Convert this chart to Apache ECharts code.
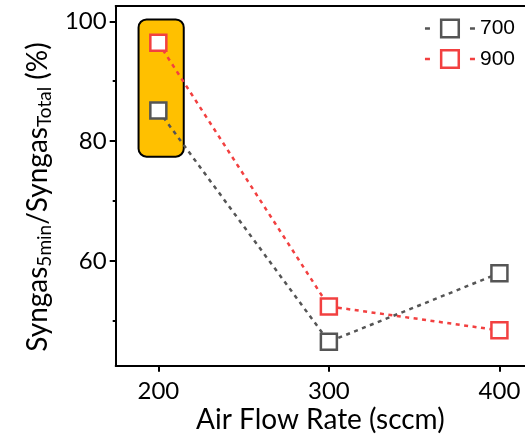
<!DOCTYPE html>
<html>
<head>
<meta charset="utf-8">
<style>html,body{margin:0;padding:0;background:#fff;overflow:hidden;}#c{width:525px;height:439px;}</style>
<script src="https://cdn.jsdelivr.net/npm/echarts@6/dist/echarts.min.js"></script>
</head>
<body>
<div id="c"></div>
<script>
// ---- data ----
const airFlow = [200, 300, 400];
const s700 = [85.1, 46.5, 57.95];
const s900 = [96.4, 52.4, 48.4];
const seriesNames = ['700', '900'];
const xTicks = [200, 300, 400];
const yMajorTicks = [60, 80, 100];
const yMinorTicks = [50, 70, 90];
const highlightBox = [188.4, 77.4, 214.9, 100.3]; // x0, y0, x1, y1 (data units)
const xTitle = 'Air Flow Rate (sccm)';
const yTitle = '{m|Syngas}{s|5min}{m|/Syngas}{s|Total}{m| (%)}';

const GRAY = '#555555';
const RED = '#F24040';
const FONT = 'Lato';

const chart = echarts.init(document.getElementById('c'), null, {renderer: 'canvas'});
const dotted = [4, 4.5];
const X_MIN = 175, X_MAX = 415, Y_MIN = 42.5, Y_MAX = 102.55;

const hiddenAxisBits = {axisTick: {show: false}, axisLabel: {show: false}, splitLine: {show: false}};

chart.setOption({
  animation: false,
  backgroundColor: '#fff',
  grid: {left: 115.7, right: 0, top: 6, bottom: 73.3, outerBoundsMode: 'none', containLabel: false},
  legend: {
    data: seriesNames,
    orient: 'vertical',
    right: 10, top: 18, padding: 0,
    itemWidth: 50, itemHeight: 22, itemGap: 9.5,
    textStyle: {fontFamily: 'Liberation Sans', fontSize: 21, color: '#000'},
    lineStyle: {type: [5, 17.5], width: 2.5},
    itemStyle: {borderWidth: 2.5}
  },
  graphic: [{
    type: 'text', x: 38, y: 197, rotation: Math.PI / 2, z: 10,
    style: {
      text: yTitle, align: 'center', verticalAlign: 'middle',
      rich: {
        m: {fontFamily: FONT, fontSize: 28, fill: '#000', lineHeight: 32},
        s: {fontFamily: FONT, fontSize: 19, fill: '#000', lineHeight: 12, verticalAlign: 'bottom'}
      }
    }
  }],
  xAxis: [{
    type: 'value', min: X_MIN, max: X_MAX,
    name: xTitle, nameLocation: 'middle', nameGap: 40, nameMoveOverlap: false,
    nameTextStyle: {fontFamily: FONT, fontSize: 28, color: '#000'},
    axisLine: {show: true, onZero: false, lineStyle: {color: '#000', width: 2}},
    axisTick: {show: true, customValues: xTicks, length: 6, lineStyle: {color: '#000', width: 2}},
    axisLabel: {customValues: xTicks, margin: 14, fontFamily: FONT, fontSize: 24, color: '#000'},
    splitLine: {show: false}
  }, {
    type: 'value', min: X_MIN, max: X_MAX, position: 'top',
    axisLine: {show: true, onZero: false, lineStyle: {color: '#000', width: 2}},
    ...hiddenAxisBits
  }],
  yAxis: [{
    type: 'value', min: Y_MIN, max: Y_MAX,
    axisLine: {show: true, onZero: false, lineStyle: {color: '#000', width: 2}},
    axisTick: {show: true, customValues: yMajorTicks, length: 6, lineStyle: {color: '#000', width: 2}},
    axisLabel: {customValues: yMajorTicks, margin: 9, fontFamily: FONT, fontSize: 24, color: '#000'},
    splitLine: {show: false}
  }, {
    type: 'value', min: Y_MIN, max: Y_MAX, position: 'left',
    axisLine: {show: false, onZero: false},
    axisTick: {show: true, customValues: yMinorTicks, length: 3, lineStyle: {color: '#000', width: 2}},
    axisLabel: {show: false},
    splitLine: {show: false}
  }],
  series: [
    {
      type: 'custom', name: 'box', silent: true, z: 1,
      renderItem: function (params, api) {
        const p0 = api.coord([api.value(0), api.value(3)]);
        const p1 = api.coord([api.value(2), api.value(1)]);
        return {type: 'rect', shape: {x: p0[0], y: p0[1], width: p1[0] - p0[0], height: p1[1] - p0[1], r: 8},
          style: {fill: '#FFC000', stroke: '#000', lineWidth: 2}};
      },
      encode: {x: [0, 2], y: [1, 3]},
      data: [highlightBox]
    },
    {
      type: 'line', name: seriesNames[0], z: 3,
      data: airFlow.map((x, i) => [x, s700[i]]),
      symbol: 'rect', symbolSize: 16,
      lineStyle: {color: GRAY, width: 2.5, type: dotted},
      itemStyle: {color: '#fff', borderColor: GRAY, borderWidth: 2.5}
    },
    {
      type: 'line', name: seriesNames[1], z: 4,
      data: airFlow.map((x, i) => [x, s900[i]]),
      symbol: 'rect', symbolSize: 16,
      lineStyle: {color: RED, width: 2.5, type: dotted},
      itemStyle: {color: '#fff', borderColor: RED, borderWidth: 2.5}
    }
  ]
});
</script>
</body>
</html>
